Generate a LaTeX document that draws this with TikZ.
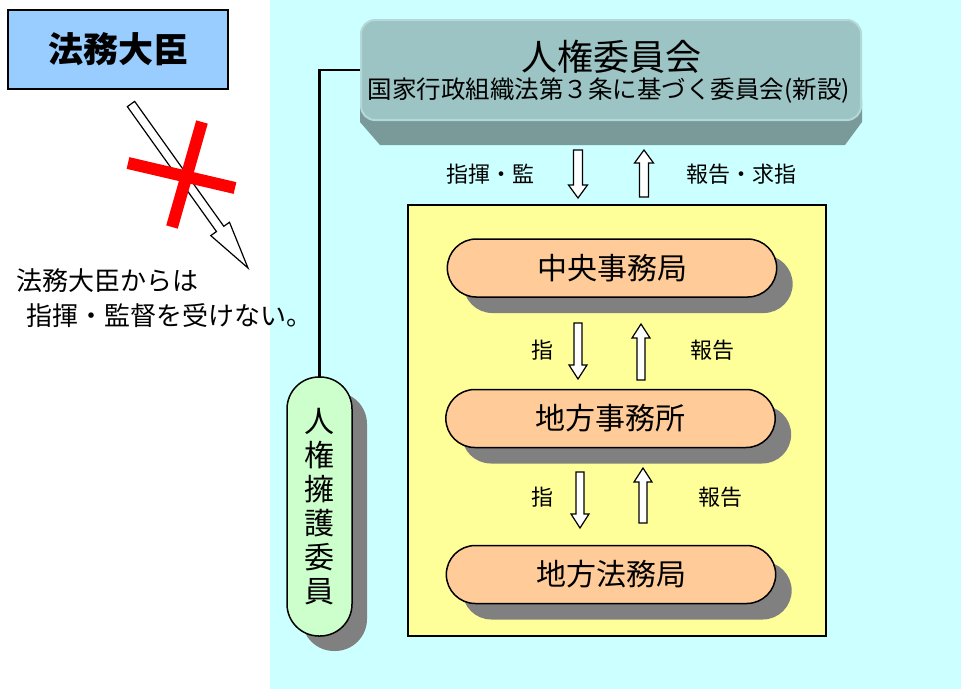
\documentclass[tikz,border=0pt]{standalone}
\usepackage{fontspec}
\setmainfont{Noto Sans CJK JP}
\usetikzlibrary{calc,shapes.misc,shadows}

\definecolor{bgcyan}{HTML}{CCFFFF}
\definecolor{ministerblue}{HTML}{99CCFF}
\definecolor{iinkaiface}{HTML}{9CC4C4}
\definecolor{iinkaiedge}{HTML}{B4D8D8}
\definecolor{iinkaibevel}{HTML}{7A9A9A}
\definecolor{officeyellow}{HTML}{FFFF99}
\definecolor{pillorange}{HTML}{FFCC99}
\definecolor{pillgreen}{HTML}{CCFFCC}
\definecolor{shadowgray}{HTML}{808080}

\begin{document}
\begin{tikzpicture}[x=1pt, y=-1pt,
  hollow/.style n args={3}{draw=black, fill=white, line width=1.2pt, line join=miter,
    to path={($(\tikztostart)!#1!90:(\tikztotarget)$)
      -- ($($(\tikztotarget)!#2!(\tikztostart)$)!#1!90:(\tikztotarget)$)
      -- ($($(\tikztotarget)!#2!(\tikztostart)$)!#3!90:(\tikztotarget)$)
      -- (\tikztotarget)
      -- ($($(\tikztotarget)!#2!(\tikztostart)$)!#3!-90:(\tikztotarget)$)
      -- ($($(\tikztotarget)!#2!(\tikztostart)$)!#1!-90:(\tikztotarget)$)
      -- ($(\tikztostart)!#1!-90:(\tikztotarget)$) -- cycle}},
  pill/.style={rounded rectangle, draw=black, line width=1.5pt, fill=pillorange,
    minimum width=336, minimum height=58, font=\fontsize{30}{30}\selectfont,
    drop shadow={shadow xshift=16pt, shadow yshift=-16pt, fill=shadowgray, opacity=1}},
  small/.style={font=\fontsize{22}{22}\selectfont}]
\useasboundingbox (0,0) rectangle (961,689);
\fill[white] (0,0) rectangle (961,689);
\fill[bgcyan] (270,0) rectangle (961,689);

% minister and the crossed out arrow
\node[rectangle, draw=black, line width=1.2pt, fill=ministerblue, minimum width=220, minimum height=79,
  font=\bfseries\fontsize{35}{35}\selectfont] (minister) at (118,49.5) {法務大臣};
\coordinate (ms) at (131,104);
\coordinate (me) at (248,268);
\path[hollow={4.5pt}{48pt}{11.5pt}] (ms) to (me);
\coordinate (xa1) at (202,122);
\coordinate (xa2) at (172,227);
\coordinate (xb1) at (128,163);
\coordinate (xb2) at (235,188);
\draw[red, line width=12pt] (xa1) -- (xa2) (xb1) -- (xb2);

% committee
\node[rectangle, rounded corners=14pt, minimum width=502, minimum height=100] (iinkai) at (611,70) {};
\draw[line width=2.5pt] (iinkai.west) -| (319.5,380);
\fill[iinkaibevel] (360,100) -- (862,100) -- (862,122) -- (845,145) -- (380,145) -- (360,122) -- cycle;
\node[rectangle, rounded corners=14pt, draw=iinkaiedge, line width=2pt, fill=iinkaiface,
  minimum width=500, minimum height=100] (iinkaiface) at (611,70) {};
\node[font=\fontsize{36}{36}\selectfont] (title) at (611,57) {人権委員会};
\node[font=\fontsize{24.5}{24.5}\selectfont] (sub) at (609,91) {国家行政組織法第３条に基づく委員会(新設)};

% arrows between committee and offices
\coordinate (c1s) at (578,150);
\coordinate (c1e) at (578,198);
\coordinate (c2s) at (644,197);
\coordinate (c2e) at (644,150);
\path[hollow={4.5pt}{13pt}{9.5pt}] (c1s) to (c1e);
\path[hollow={4.5pt}{13pt}{9.5pt}] (c2s) to (c2e);
\node[small] (lab1) at (490,174) {指揮・監};
\node[small] (lab2) at (741,174) {報告・求指};

% offices
\node[rectangle, draw=black, line width=1.5pt, fill=officeyellow, minimum width=418, minimum height=431] (office) at (617,420.5) {};
\node[pill] (chuo) at (612,268) {中央事務局};
\node[pill] (chiho) at (610.5,418.5) {地方事務所};
\node[pill] (houmu) at (611,574.5) {地方法務局};

\coordinate (p1s) at (578,323);
\coordinate (p1e) at (578,379);
\coordinate (p2s) at (641,380);
\coordinate (p2e) at (641,324);
\coordinate (p3s) at (580,472);
\coordinate (p3e) at (580,528);
\coordinate (p4s) at (643,523);
\coordinate (p4e) at (643,468);
\path[hollow={4pt}{14pt}{9pt}] (p1s) to (p1e);
\path[hollow={4pt}{14pt}{9pt}] (p2s) to (p2e);
\path[hollow={4pt}{14pt}{9pt}] (p3s) to (p3e);
\path[hollow={4pt}{14pt}{9pt}] (p4s) to (p4e);
\node[small] (lab3) at (542,350) {指};
\node[small] (lab4) at (712,350) {報告};
\node[small] (lab5) at (542,497) {指};
\node[small] (lab6) at (720,497) {報告};

% commissioners
\node[rectangle, rounded corners=32pt, draw=black, line width=1.5pt, fill=pillgreen,
  minimum width=65, minimum height=259, align=center, font=\fontsize{30}{34}\selectfont,
  drop shadow={shadow xshift=15pt, shadow yshift=-15pt, fill=shadowgray, opacity=1}] (jinken) at (319.5,506.5)
  {人\\権\\擁\\護\\委\\員};

% note
\node[anchor=north west, align=left, font=\fontsize{26}{35}\selectfont, inner sep=0pt] (note) at (16,268)
  {法務大臣からは\\\hspace{10pt}指揮・監督を受けない。};
\end{tikzpicture}
\end{document}
